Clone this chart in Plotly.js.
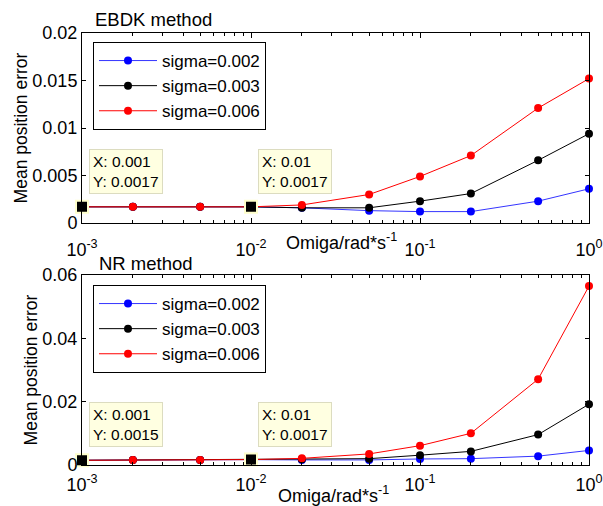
<!DOCTYPE html>
<html>
<head>
<meta charset="utf-8">
<script src="https://cdn.plot.ly/plotly-3.0.1.min.js"></script>
<style>html,body{margin:0;padding:0;background:#fff}#chart{width:603px;height:506px}</style>
</head>
<body>
<div id="chart"></div>
<script>
// ---- data ----
const omega = [0.001, 0.002, 0.005, 0.01, 0.02, 0.05, 0.1, 0.2, 0.5, 1];
const seriesNames = ['sigma=0.002', 'sigma=0.003', 'sigma=0.006'];
const ebdk_s002 = [0.0017, 0.0017, 0.0017, 0.0017, 0.0016, 0.0013, 0.0012, 0.0012, 0.0023, 0.0036];
const ebdk_s003 = [0.0017, 0.0017, 0.0017, 0.0017, 0.0016, 0.0016, 0.0023, 0.0031, 0.0066, 0.0094];
const ebdk_s006 = [0.0017, 0.0017, 0.0017, 0.0017, 0.0019, 0.0030, 0.0049, 0.0071, 0.0121, 0.0152];
const nr_s002 = [0.0015, 0.0016, 0.0016, 0.0017, 0.0016, 0.0016, 0.0019, 0.0020, 0.0028, 0.0046];
const nr_s003 = [0.0015, 0.0016, 0.0016, 0.0017, 0.0018, 0.0020, 0.0031, 0.0043, 0.0096, 0.0192];
const nr_s006 = [0.0015, 0.0016, 0.0016, 0.0017, 0.0021, 0.0035, 0.0061, 0.0100, 0.0271, 0.0565];
const ebdkTipX = [0.001, 0.01];
const ebdkTipY = [0.0017, 0.0017];
const nrTipX = [0.001, 0.01];
const nrTipY = [0.0015, 0.0017];
const xTickVals = [0.001, 0.01, 0.1, 1];
const xTickText = ['10<sup>-3</sup>', '10<sup>-2</sup>', '10<sup>-1</sup>', '10<sup>0</sup>'];
const ebdkYTicks = [0, 0.005, 0.01, 0.015, 0.02];
const ebdkYText = ['0', '0.005', '0.01', '0.015', '0.02'];
const nrYTicks = [0, 0.02, 0.04, 0.06];
const nrYText = ['0', '0.02', '0.04', '0.06'];
const colors = ['#0000ff', '#000000', '#ff0000'];

const FONT = 'Liberation Sans, Arial, sans-serif';

function line(x, y, name, color, xa, ya, leg) {
  return {
    x: x, y: y, name: name, type: 'scatter', mode: 'lines+markers',
    xaxis: xa, yaxis: ya, legend: leg,
    line: {color: color, width: color === '#0000ff' ? 0.8 : 1},
    marker: {color: color, size: 8, symbol: 'circle'},
    cliponaxis: false
  };
}
function tips(x, y, xa, ya) {
  return {
    x: x, y: y, type: 'scatter', mode: 'markers', xaxis: xa, yaxis: ya,
    showlegend: false, cliponaxis: false, hoverinfo: 'skip',
    marker: {symbol: 'square', color: '#000000', size: 12, line: {color: '#ffffcc', width: 2}}
  };
}

const traces = [
  line(omega, ebdk_s002, seriesNames[0], colors[0], 'x', 'y', 'legend'),
  line(omega, ebdk_s003, seriesNames[1], colors[1], 'x', 'y', 'legend'),
  line(omega, ebdk_s006, seriesNames[2], colors[2], 'x', 'y', 'legend'),
  tips(ebdkTipX, ebdkTipY, 'x', 'y'),
  line(omega, nr_s002, seriesNames[0], colors[0], 'x2', 'y2', 'legend2'),
  line(omega, nr_s003, seriesNames[1], colors[1], 'x2', 'y2', 'legend2'),
  line(omega, nr_s006, seriesNames[2], colors[2], 'x2', 'y2', 'legend2'),
  tips(nrTipX, nrTipY, 'x2', 'y2')
];

const W = 603, H = 506;
const xDom = [82 / W, 589 / W];
const topDom = [(H - 223) / H, (H - 33) / H];
const botDom = [(H - 465) / H, (H - 275) / H];

function xaxis(anchor, standoff) {
  return {
    type: 'log', range: [-3, 0], domain: xDom, anchor: anchor,
    tickmode: 'array', tickvals: xTickVals, ticktext: xTickText,
    ticks: 'inside', ticklen: 5, tickcolor: '#000', tickwidth: 1,
    minor: {ticks: 'inside', ticklen: 3, tickcolor: '#000', dtick: 'D1', showgrid: false},
    showline: true, linecolor: '#000', linewidth: 1, mirror: 'ticks',
    showgrid: false, zeroline: false, ticklabelstandoff: standoff,
    tickfont: {family: FONT, size: 18, color: '#000'}, fixedrange: true
  };
}
function yaxis(anchor, dom, range, vals, text) {
  return {
    range: range, domain: dom, anchor: anchor,
    tickmode: 'array', tickvals: vals, ticktext: text,
    ticks: 'inside', ticklen: 4, tickcolor: '#000',
    showline: true, linecolor: '#000', linewidth: 1, mirror: 'ticks',
    showgrid: false, zeroline: false,
    tickfont: {family: FONT, size: 18, color: '#000'},
    title: {text: 'Mean position error', font: {family: FONT, size: 17.5, color: '#000'}, standoff: 0},
    fixedrange: true
  };
}

function tipNote(x, y, xr, yr) {
  return {
    x: Math.log10(x), y: y, xref: xr, yref: yr, showarrow: false,
    xanchor: 'left', yanchor: 'bottom', xshift: 7, yshift: 13, align: 'left',
    text: 'X: ' + x + '<br>Y: ' + y,
    font: {family: FONT, size: 15.5, color: '#000'},
    bgcolor: '#ffffe1', bordercolor: '#dcdcc0', borderwidth: 1, borderpad: 3
  };
}

const annotations = [
  {text: 'EBDK method', x: 93 / W, y: (H - 20) / H, xref: 'paper', yref: 'paper', showarrow: false,
   xanchor: 'left', yanchor: 'middle', font: {family: FONT, size: 18.5, color: '#000'}},
  {text: 'NR method', x: 97 / W, y: (H - 263) / H, xref: 'paper', yref: 'paper', showarrow: false,
   xanchor: 'left', yanchor: 'middle', font: {family: FONT, size: 18.5, color: '#000'}},
  {text: 'Omiga/rad*s<sup>-1</sup>', x: 341 / W, y: (H - 241) / H, xref: 'paper', yref: 'paper', showarrow: false,
   xanchor: 'center', yanchor: 'middle', font: {family: FONT, size: 18, color: '#000'}},
  {text: 'Omiga/rad*s<sup>-1</sup>', x: 333 / W, y: (H - 494) / H, xref: 'paper', yref: 'paper', showarrow: false,
   xanchor: 'center', yanchor: 'middle', font: {family: FONT, size: 18, color: '#000'}}
];
ebdkTipX.forEach((x, i) => annotations.push(tipNote(x, ebdkTipY[i], 'x', 'y')));
nrTipX.forEach((x, i) => annotations.push(tipNote(x, nrTipY[i], 'x2', 'y2')));

function legendBox(ytop) {
  return {
    x: 93 / W, y: (H - ytop) / H, xref: 'paper', yref: 'paper',
    xanchor: 'left', yanchor: 'top',
    bgcolor: '#ffffff', bordercolor: '#000', borderwidth: 1,
    font: {family: FONT, size: 17, color: '#000'},
    tracegroupgap: 0, itemwidth: 58
  };
}

const layout = {
  width: W, height: H,
  margin: {l: 0, r: 0, t: 0, b: 0, autoexpand: false},
  paper_bgcolor: '#ffffff', plot_bgcolor: '#ffffff',
  showlegend: true,
  font: {family: FONT, color: '#000'},
  xaxis: xaxis('y', 10),
  yaxis: yaxis('x', topDom, [0, 0.02], ebdkYTicks, ebdkYText),
  xaxis2: xaxis('y2', 3),
  yaxis2: yaxis('x2', botDom, [0, 0.06], nrYTicks, nrYText),
  legend: legendBox(42),
  legend2: legendBox(285),
  annotations: annotations
};

Plotly.newPlot('chart', traces, layout, {staticPlot: true, displayModeBar: false});
</script>
</body>
</html>
